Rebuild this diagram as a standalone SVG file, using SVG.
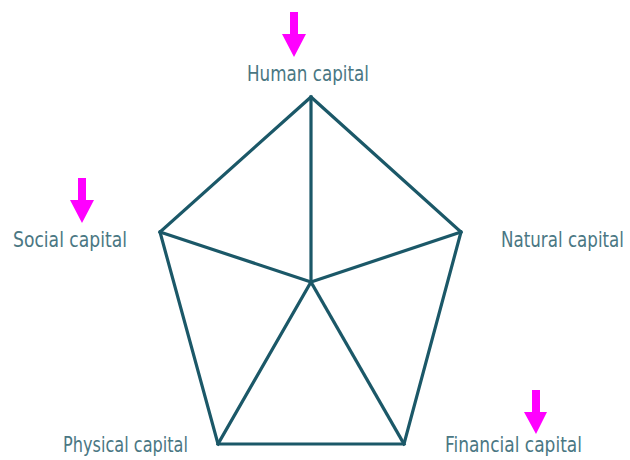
<svg xmlns="http://www.w3.org/2000/svg" width="630" height="460" viewBox="0 0 630 460">
  <style>
    .edge { fill: none; stroke: #1b5868; stroke-width: 3.2; stroke-linejoin: miter; stroke-linecap: square; }
    .label { font-family: "DejaVu Sans Condensed", "Liberation Sans", sans-serif; font-size: 22px; fill: #4a7783; font-stretch: condensed; }
    .marker { fill: #ff00ff; }
  </style>
  <rect width="630" height="460" fill="#ffffff"/>

  <!-- connectors: pentagon outline and spokes to the centre -->
  <g id="connectors">
    <polygon class="edge" points="311,97 461,232 404,444 218,444 160,232"/>
    <line class="edge" x1="311" y1="282" x2="311" y2="97"/>
    <line class="edge" x1="311" y1="282" x2="461" y2="232"/>
    <line class="edge" x1="311" y1="282" x2="404" y2="444"/>
    <line class="edge" x1="311" y1="282" x2="218" y2="444"/>
    <line class="edge" x1="311" y1="282" x2="160" y2="232"/>
  </g>

  <g id="human">
    <text class="label" x="247" y="81" textLength="122" lengthAdjust="spacingAndGlyphs">Human capital</text>
    <path class="marker" d="M290,12 H298 V34 H306 L294,57 L282,34 H290 Z"/>
  </g>

  <g id="social">
    <text class="label" x="13" y="247" textLength="114" lengthAdjust="spacingAndGlyphs">Social capital</text>
    <path class="marker" d="M78,178 H86 V200 H94 L82,223 L70,200 H78 Z"/>
  </g>

  <g id="natural">
    <!-- squeezed horizontally so the label stays inside the right edge -->
    <text class="label" transform="translate(501,247) scale(0.82,1)" x="0" y="0" textLength="150" lengthAdjust="spacingAndGlyphs">Natural capital</text>
  </g>

  <g id="physical">
    <text class="label" x="63" y="452" textLength="125" lengthAdjust="spacingAndGlyphs">Physical capital</text>
  </g>

  <g id="financial">
    <text class="label" x="445" y="452" textLength="137" lengthAdjust="spacingAndGlyphs">Financial capital</text>
    <path class="marker" d="M532,390 H540 V412 H547 L536,434 L524,412 H532 Z"/>
  </g>
</svg>
